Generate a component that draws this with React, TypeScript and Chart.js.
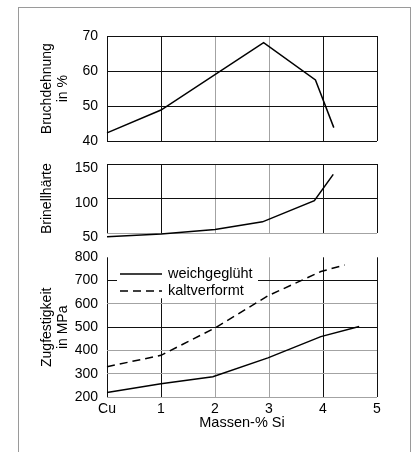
import React, { useEffect, useRef } from 'react';
import { Chart, registerables } from 'chart.js';

Chart.register(...registerables);

// ---- data ----
const xTickLabels = ['Cu', '1', '2', '3', '4', '5'];

const elongationSi = [0, 1, 2.9, 3.86, 4.2];
const elongationPct = [42.4, 48.9, 68.1, 57.5, 43.9];

const hardnessSi = [0, 1, 2, 2.88, 3.84, 4.19];
const hardnessHB = [45, 49, 55.5, 66.5, 97, 135];

const annealedSi = [0, 1, 1.96, 2.98, 3.96, 4.67];
const annealedMPa = [221, 258, 288, 369, 460, 503];

const coldWorkedSi = [0, 1, 2, 2.98, 3.96, 4.4];
const coldWorkedMPa = [331, 380, 497, 635, 739, 767];

const seriesNames = ['weichgeglüht', 'kaltverformt'];

// ---- styles ----
const FONT = 'Liberation Sans, Arial, Helvetica, sans-serif';
const DARK = '#111111';
const GREY = '#a3a3a3';
const PLOT_LEFT = 107;
const W = 414;
const H = 452;

const pts = (xs: number[], ys: number[]) => xs.map((x, i) => ({ x, y: ys[i] }));

const xDark = (v: number) => v === 0 || v === 1 || v === 4 || v === 5;

function xAxis(showLabels: boolean) {
  return {
    type: 'linear',
    min: 0,
    max: 5,
    ticks: {
      display: showLabels,
      stepSize: 1,
      padding: 3,
      color: '#000',
      font: { family: FONT, size: 14 },
      callback: (v: number) => xTickLabels[Math.round(v)] ?? '',
    },
    grid: {
      drawTicks: false,
      color: (c: any) => (c.tick && xDark(c.tick.value) ? DARK : GREY),
      lineWidth: 1,
    },
    border: { display: false },
    title: {
      display: showLabels,
      text: 'Massen-% Si',
      color: '#000',
      font: { family: FONT, size: 14.5, lineHeight: 1.2 },
      padding: { top: 0, bottom: 6 },
    },
    afterFit: (s: any) => {
      s.height = showLabels ? 40 : 0;
    },
  };
}

function yAxis(
  min: number,
  max: number,
  step: number,
  title: string[],
  colorFn: (v: number) => string,
  labelOffset: number
) {
  return {
    type: 'linear',
    min,
    max,
    ticks: {
      stepSize: step,
      padding: 9,
      labelOffset,
      color: '#000',
      font: { family: FONT, size: 14 },
    },
    grid: {
      drawTicks: false,
      color: (c: any) => (c.tick ? colorFn(c.tick.value) : GREY),
      lineWidth: 1,
    },
    border: { display: false },
    title: {
      display: true,
      text: title,
      color: '#000',
      font: { family: FONT, size: 14, lineHeight: 1.17 },
      padding: { top: 38.5, bottom: 0 },
    },
    afterFit: (s: any) => {
      s.width = PLOT_LEFT;
    },
  };
}

const lineDs = (data: any[], dash: number[] = []) => ({
  data,
  borderColor: '#000',
  borderWidth: 1.5,
  borderDash: dash,
  pointRadius: 0,
  tension: 0,
  fill: false,
  clip: false as any,
});

const legendPlugin = {
  id: 'boxLegend',
  afterDraw(chart: any) {
    const { ctx, chartArea } = chart;
    const l = chartArea.left;
    const t = chartArea.top;
    ctx.save();
    ctx.fillStyle = '#fff';
    ctx.fillRect(l + 10, t - 1, 141, 42);
    chart.data.datasets.forEach((ds: any, i: number) => {
      const y = t + 16.7 + i * 17;
      ctx.strokeStyle = ds.borderColor;
      ctx.lineWidth = ds.borderWidth;
      ctx.setLineDash(ds.borderDash || []);
      ctx.beginPath();
      ctx.moveTo(l + 13, y);
      ctx.lineTo(l + 55, y);
      ctx.stroke();
      ctx.setLineDash([]);
      ctx.fillStyle = '#000';
      ctx.font = `14.5px ${FONT}`;
      ctx.textBaseline = 'middle';
      ctx.textAlign = 'left';
      ctx.fillText(ds.label, l + 61, y);
    });
    ctx.restore();
  },
};

function baseOptions(padding: any, x: any, y: any) {
  return {
    responsive: false,
    animation: false,
    devicePixelRatio: 1,
    layout: { padding },
    plugins: { legend: { display: false }, tooltip: { enabled: false } },
    scales: { x, y },
  };
}

export default function App() {
  const r1 = useRef<HTMLCanvasElement>(null);
  const r2 = useRef<HTMLCanvasElement>(null);
  const r3 = useRef<HTMLCanvasElement>(null);

  useEffect(() => {
    const c1 = new Chart(r1.current!, {
      type: 'line',
      data: { datasets: [lineDs(pts(elongationSi, elongationPct))] },
      options: baseOptions(
        { left: 0, right: W - 377, top: 36, bottom: H - 141.3 },
        xAxis(false),
        yAxis(40, 70, 10, ['Bruchdehnung', 'in %'], () => DARK, 0)
      ) as any,
    } as any);

    const c2 = new Chart(r2.current!, {
      type: 'line',
      data: { datasets: [lineDs(pts(hardnessSi, hardnessHB))] },
      options: baseOptions(
        { left: 0, right: W - 377, top: 164, bottom: H - 233.3 },
        xAxis(false),
        yAxis(50, 150, 50, ['Brinellhärte'], (v) => (v === 50 ? GREY : DARK), 4)
      ) as any,
    } as any);

    const c3 = new Chart(r3.current!, {
      type: 'line',
      data: {
        datasets: [
          { ...lineDs(pts(annealedSi, annealedMPa)), label: seriesNames[0] },
          { ...lineDs(pts(coldWorkedSi, coldWorkedMPa), [8, 5]), label: seriesNames[1] },
        ],
      },
      options: baseOptions(
        { left: 0, right: W - 377, top: 257.3, bottom: H - 397.3 - 40 },
        xAxis(true),
        yAxis(
          200,
          800,
          100,
          ['Zugfestigkeit', 'in MPa'],
          (v) => (v === 800 ? 'rgba(0,0,0,0)' : v === 500 || v === 700 ? DARK : GREY),
          0
        )
      ) as any,
      plugins: [legendPlugin],
    } as any);

    return () => {
      c1.destroy();
      c2.destroy();
      c3.destroy();
    };
  }, []);

  const cs: React.CSSProperties = { position: 'absolute', left: 0, top: 0 };
  return (
    <div
      style={{
        position: 'absolute',
        left: 0,
        top: 0,
        width: W,
        height: H,
        overflow: 'hidden',
        background: '#fff',
      }}
    >
      <div
        style={{
          position: 'absolute',
          left: 18,
          top: 7,
          width: 393,
          height: 470,
          border: '1px solid #9a9a9a',
          boxSizing: 'border-box',
        }}
      />
      <canvas ref={r1} width={W} height={H} style={cs} />
      <canvas ref={r2} width={W} height={H} style={cs} />
      <canvas ref={r3} width={W} height={H} style={cs} />
    </div>
  );
}
